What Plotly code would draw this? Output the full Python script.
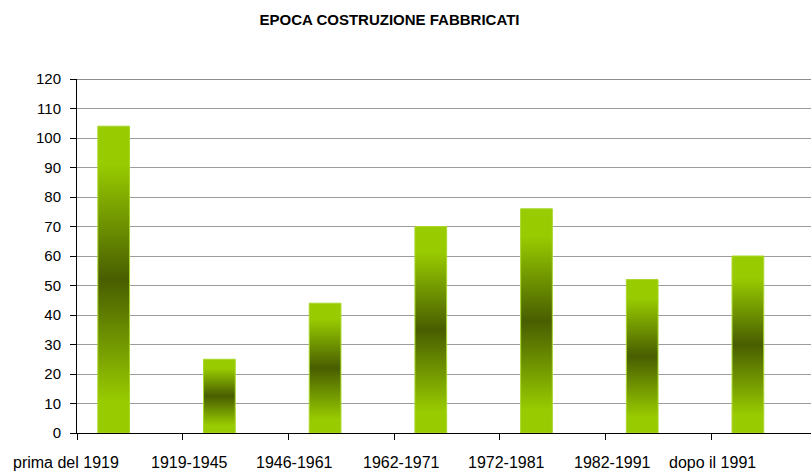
import plotly.graph_objects as go

categories = ["prima del 1919", "1919-1945", "1946-1961", "1962-1971",
              "1972-1981", "1982-1991", "dopo il 1991"]
values = [104, 25, 44, 70, 76, 52, 60]

# axis range is cut on the right like the original picture
x_min, x_max = -0.5, 6.444
y_max = 120
bar_w = 0.30
bar_off = -0.153
# label shift from the category boundary (excel put them a bit oddly)
label_shift = [-0.104, 0.069, 0.062, 0.07, 0.059, 0.062, 0.008]

light = "#99cc00"
dark = "#485e00"
grad = [[0, light], [0.1, light], [0.5, dark], [0.88, light], [1, light]]

fig = go.Figure()

for i, v in enumerate(values):
    c = i + bar_off
    x0, x1 = c - bar_w / 2, c + bar_w / 2
    fig.add_trace(go.Scatter(
        x=[x0, x1, x1, x0, x0], y=[0, 0, v, v, 0],
        mode="lines", fill="toself",
        line=dict(color="#a9d62a", width=1),
        fillgradient=dict(type="vertical", colorscale=grad, start=0, stop=v),
        hoverinfo="skip", showlegend=False))

bounds = [i - 0.5 for i in range(len(categories) + 1)]
span = x_max - x_min
for i, lab in enumerate(categories):
    xp = (bounds[i] + label_shift[i] - x_min) / span
    fig.add_annotation(text=lab, x=xp, xref="paper", y=-0.082, yref="paper",
                       xanchor="center", yanchor="middle", showarrow=False,
                       font=dict(size=16, color="#000000"))

# darker line along the top of the plot
fig.add_shape(type="line", xref="paper", x0=0, x1=1, yref="y", y0=y_max, y1=y_max,
              line=dict(color="#8c8c8c", width=2))

fig.update_layout(
    width=811, height=472,
    margin=dict(l=77, r=0, t=79, b=39),
    paper_bgcolor="white", plot_bgcolor="white",
    font=dict(family="Arial, Liberation Sans, sans-serif", color="#000000"),
    title=dict(text="<b>EPOCA COSTRUZIONE FABBRICATI</b>",
               x=389.5 / 811, xanchor="center", y=1 - 20 / 472, yanchor="middle",
               font=dict(size=15, color="#000000")),
)
fig.update_xaxes(range=[x_min, x_max], tickvals=bounds, ticktext=[""] * len(bounds),
                 ticks="outside", ticklen=6, tickcolor="black", showgrid=False,
                 showline=True, linecolor="black", linewidth=1, zeroline=False)
fig.update_yaxes(range=[0, y_max], dtick=10, ticks="outside", ticklen=6, tickcolor="black",
                 showgrid=True, gridcolor="#9c9c9c", gridwidth=1,
                 showline=True, linecolor="black", linewidth=1, zeroline=False,
                 tickfont=dict(size=15), ticklabelstandoff=6)

# page body has a default 8px margin, drop it so the chart sits at 0,0
fig.write_html("out.html", config={"displayModeBar": False},
               post_script="document.body.style.margin='0';")
